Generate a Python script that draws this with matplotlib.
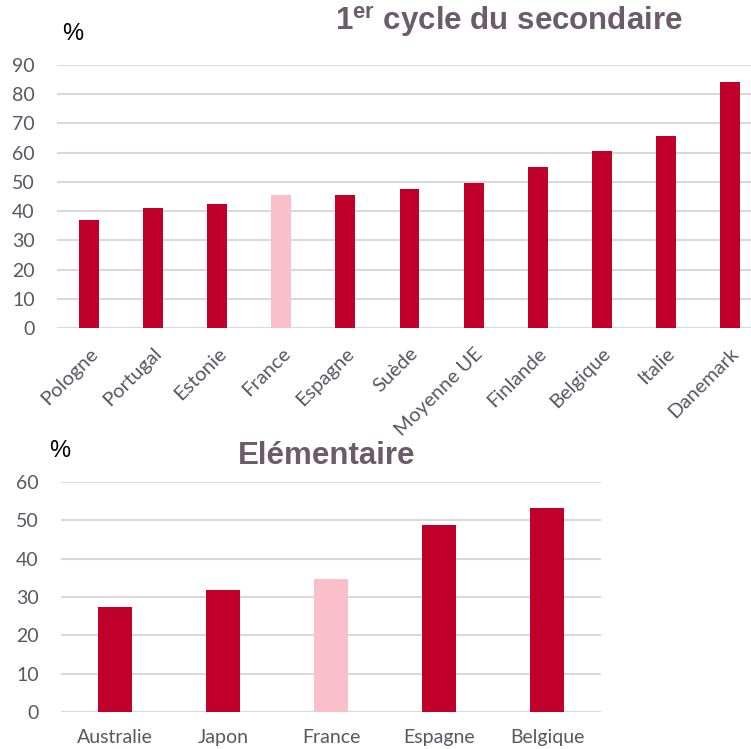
import matplotlib
matplotlib.use('Agg')
import matplotlib.pyplot as plt

# données
pays_sec = ['Pologne', 'Portugal', 'Estonie', 'France', 'Espagne', 'Suède',
            'Moyenne UE', 'Finlande', 'Belgique', 'Italie', 'Danemark']
val_sec = [37.0, 41.1, 42.6, 45.6, 45.6, 47.4, 49.7, 55.0, 60.7, 65.6, 84.3]

pays_elem = ['Australie', 'Japon', 'France', 'Espagne', 'Belgique']
val_elem = [27.3, 31.9, 34.7, 48.8, 53.2]

rouge = '#C00029'
rose = '#FBBFCB'
gris_txt = '#5E5464'
titre_col = '#6B5B6B'
grille = '#D9D9D9'

plt.rcParams['mathtext.fontset'] = 'custom'
plt.rcParams['mathtext.bf'] = 'Liberation Sans:bold'
plt.rcParams['mathtext.rm'] = 'Liberation Sans:bold'

fig = plt.figure(figsize=(7.51, 7.49), dpi=100)
W, H = 751, 749
fs = 14

def style_axes(ax, cats, vals, ymax, rot):
    x = range(len(cats))
    cols = [rose if c == 'France' else rouge for c in cats]
    ax.bar(x, vals, width=0.31, color=cols, zorder=3)
    ax.set_xlim(-0.5, len(cats) - 0.5)
    ax.set_ylim(0, ymax)
    ax.set_yticks(range(0, ymax + 1, 10))
    ax.grid(axis='y', color=grille, linewidth=1.5, zorder=0)
    ax.set_axisbelow(True)
    for s in ax.spines.values():
        s.set_visible(False)
    ax.tick_params(axis='both', length=0, labelsize=fs, labelcolor=gris_txt)
    ax.tick_params(axis='y', pad=16)
    ax.set_xticks(list(x))
    if rot:
        ax.set_xticklabels(cats, rotation=45, ha='right', rotation_mode='anchor',
                           family='Lato', fontsize=14.5)
        ax.tick_params(axis='x', pad=12)
    else:
        ax.set_xticklabels(cats, family='Lato', fontsize=fs)
        ax.tick_params(axis='x', pad=12)
    for lab in ax.get_yticklabels():
        lab.set_family('Lato')

# 1er cycle du secondaire
ax1 = fig.add_axes([57 / W, 1 - 328 / H, 705 / W, 263 / H])
style_axes(ax1, pays_sec, val_sec, 90, True)

# Elémentaire
ax2 = fig.add_axes([61 / W, 1 - 712 / H, 540 / W, 230 / H])
style_axes(ax2, pays_elem, val_elem, 60, False)

fig.text(509 / W, 1 - 22 / H, r'$\mathbf{1^{er}}$ cycle du secondaire',
         family='Liberation Sans', fontweight='bold', fontsize=22.5,
         color=titre_col, ha='center', va='center')
fig.text(327 / W, 1 - 456 / H, 'Elémentaire', family='Liberation Sans',
         fontweight='bold', fontsize=22.5, color=titre_col, ha='center', va='center')

fig.text(73 / W, 1 - 34 / H, '%', family='Liberation Sans', fontsize=17,
         color='black', ha='center', va='center')
fig.text(60 / W, 1 - 451 / H, '%', family='Liberation Sans', fontsize=17,
         color='black', ha='center', va='center')

fig.savefig('out.png', dpi=100)
